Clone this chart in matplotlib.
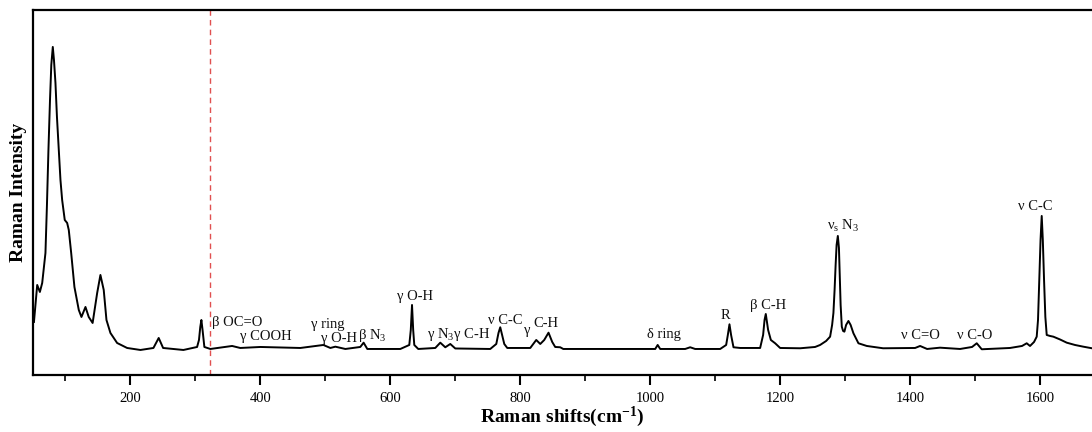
import matplotlib
matplotlib.use("Agg")
import matplotlib.pyplot as plt

# --- spectrum (wavenumber in cm-1, intensity in arb. units) ---
shift = [51.5, 56.5, 60.6, 64.2, 69.2, 71.5, 73.8, 76.2, 78.2, 80.5, 82.3, 84.6,
         86.9, 89.7, 92.3, 94.9, 98.9, 102.6, 105.1, 108.8, 113.8, 120.5, 124.6,
         130.8, 135.8, 141.8, 148.8, 153.8, 158.9, 163.1, 169.2, 179.5, 194.9, 215.4,
         235.4, 243.5, 250.3, 281.5, 302.6, 305.5, 307.5, 309.2, 311, 313.8, 323,
         356.5, 369, 400, 461.5, 497, 507.7, 515.4, 530.8, 553.8, 558.9, 564.6, 615.4,
         629.2, 631.5, 633.4, 635.2, 636.9, 643, 669.2, 676.9, 684.6, 692.3, 700,
         753.8, 763.1, 766.5, 769.2, 772, 775.4, 780, 815.4, 824.6, 830.8, 836.9,
         843.5, 849.2, 853.8, 861.5, 866.2, 923, 984.6, 1007.7, 1011.5, 1015.4,
         1053.8, 1061.5, 1069.2, 1107.7, 1116.9, 1119.5, 1122, 1124.5, 1128.2, 1138.5,
         1169.2, 1173.8, 1176, 1177.9, 1180, 1181.5, 1185.7, 1192.3, 1200, 1230.8,
         1253.8, 1261.5, 1270.8, 1276.9, 1280, 1282, 1283.8, 1285.4, 1286.9, 1288.8,
         1290.5, 1291.8, 1293.1, 1294.9, 1296.9, 1298.9, 1301.5, 1305.1, 1308.5,
         1312.8, 1320.5, 1333.4, 1358.5, 1407.7, 1415.4, 1426.2, 1446, 1476.9,
         1495.4, 1502.6, 1510.3, 1553.8, 1572.3, 1579.5, 1584.6, 1590.8, 1594.9,
         1596.9, 1598.9, 1600.8, 1602.6, 1604.3, 1606.2, 1608.2, 1610.3, 1615.4,
         1620.5, 1630.8, 1641.1, 1653.8, 1666.6, 1680]
intensity = [53, 90, 83, 92, 122, 170, 225, 275, 310, 328, 315, 292,
             258, 225, 195, 175, 155, 152, 145, 122, 88, 65, 58,
             68, 58, 52, 82, 100, 85, 55, 42, 32, 27, 25,
             27, 37, 27, 25, 28, 35, 48, 55, 45, 28, 26,
             29, 27, 28, 27, 30, 27, 28.3, 26, 28, 32.3, 26, 26,
             30, 45, 70, 45, 30, 26, 27, 32.3, 27.7, 31, 26.5,
             26, 31, 42, 47.7, 40, 31, 27, 27, 35, 31, 35,
             42.3, 33, 28, 27.7, 26, 26, 26, 26, 30, 26,
             26, 27.7, 26, 26, 30, 40, 50.7, 40, 27.7, 27,
             27, 40, 55, 61, 52, 45, 35, 31.7, 27, 26.7,
             28, 30, 34, 38.3, 50, 62, 85, 110, 130, 139,
             127, 100, 70, 48.3, 44, 43.3, 50, 54, 50,
             41.7, 31.7, 29, 26.7, 27, 29, 26, 27.3, 26,
             28, 31.7, 25.7, 27, 29, 31.7, 29, 33, 38.3,
             55, 95, 135, 159, 135, 95, 58, 40, 39,
             38.3, 35.5, 32.3, 30, 28.3, 26.7]

marker_line = 322  # red dashed reference line

# band assignments: text, shift, intensity
label_text = ["β OC=O", "γ COOH", "γ ring", "γ O-H", r"β N$_\mathrm{3}$", "γ O-H",
              r"γ N$_\mathrm{3}$γ C-H", "ν C-C", "γ", "C-H", "δ ring", "R", "β C-H",
              r"ν$_\mathrm{s}$ N$_\mathrm{3}$", "ν C=O", "ν C-O", "ν C-C"]
label_x = [326, 369, 478, 494, 551, 611, 657, 751, 805, 820, 995, 1109, 1154,
           1272, 1386, 1472, 1566]
label_y = [52, 38, 50, 36, 39, 78, 40, 54, 44, 51, 40, 59, 69, 149, 39, 39, 168]

plt.rcParams['font.family'] = ['Liberation Serif', 'DejaVu Serif']
plt.rcParams['mathtext.fontset'] = 'custom'
plt.rcParams['mathtext.rm'] = 'Liberation Serif'
plt.rcParams['mathtext.it'] = 'Liberation Serif:italic'
plt.rcParams['mathtext.bf'] = 'Liberation Serif:bold'

fig = plt.figure(figsize=(10.92, 4.32), dpi=100)
ax = fig.add_axes([0.0302, 0.132, 0.9698, 0.845])

ax.plot(shift, intensity, color='black', lw=1.4)
ax.axvline(marker_line, color='#e05050', lw=1.0, ls=(0, (4, 3)))

for t, x, y in zip(label_text, label_x, label_y):
    ax.text(x, y, t, fontsize=10.5, ha='left', va='center', color='#111111')

ax.set_xlim(50, 1680)
ax.set_ylim(0, 365)
ax.set_yticks([])
ax.set_xticks(range(200, 1700, 200))
ax.set_xticks(range(100, 1700, 100), minor=True)
ax.tick_params(axis='x', which='major', direction='out', length=7, width=1.5,
               labelsize=10.5, pad=5)
ax.tick_params(axis='x', which='minor', direction='out', length=4, width=1.2)
for side in ['left', 'top', 'bottom']:
    ax.spines[side].set_linewidth(1.6)
ax.spines['right'].set_visible(False)

ax.set_xlabel(r"Raman shifts(cm$^{\mathbf{-1}}$)", fontsize=14, fontweight='bold', labelpad=0)
ax.set_ylabel("Raman Intensity", fontsize=14, fontweight='bold', labelpad=4)

fig.savefig("out.png", dpi=100)
